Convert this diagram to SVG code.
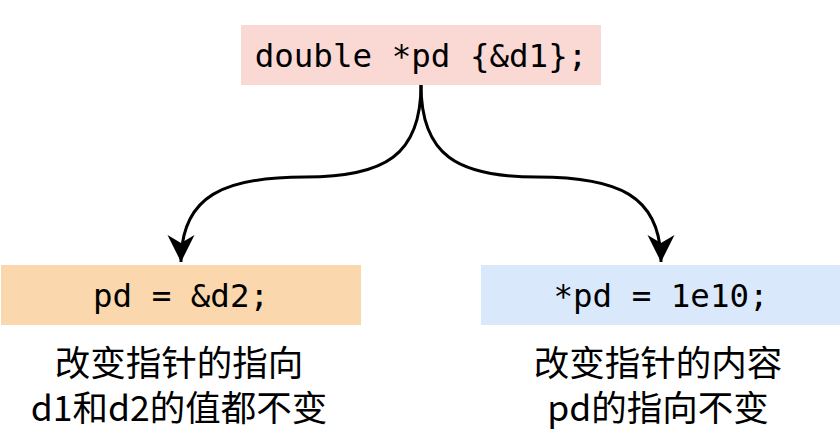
<svg xmlns="http://www.w3.org/2000/svg" width="840" height="447" viewBox="0 0 840 447">
<defs>
<style>
.code{font-family:"DejaVu Sans Mono","Liberation Mono",monospace;font-size:32.5px;fill:#000;text-anchor:middle}
.note{font-family:"Noto Sans CJK SC","Noto Sans",sans-serif;font-size:35.5px;fill:#000;text-anchor:middle}
.edge{fill:none;stroke:#000;stroke-width:3}
</style>
<marker id="arr" markerUnits="userSpaceOnUse" markerWidth="30" markerHeight="30" viewBox="-28 -15 30 30" refX="0" refY="0" orient="auto">
<path d="M0,0 L-27,-13.5 L-19,0 L-27,13.5 Z" fill="#000"/>
</marker>
</defs>
<rect width="840" height="447" fill="#fff"/>
<g id="connectors">
<path class="edge" d="M421,85 C421,155 385,177 305,177 C225,177 181,195 181,262" marker-end="url(#arr)"/>
<path class="edge" d="M421,85 C421,155 457,177 537,177 C617,177 661,195 661,262" marker-end="url(#arr)"/>
</g>
<g id="top">
<rect x="241" y="25" width="360" height="60" fill="#fad9d5"/>
<text class="code" x="421" y="67">double *pd {&amp;d1};</text>
</g>
<g id="left">
<rect x="1" y="265" width="360" height="60" fill="#fad7ac"/>
<text class="code" x="181" y="307">pd = &amp;d2;</text>
</g>
<g id="right">
<rect x="481" y="265" width="359" height="60" fill="#dae8fc"/>
<text class="code" x="661" y="307">*pd = 1e10;</text>
</g>
<g id="left-note">
<text class="note"><tspan x="179" y="376">改变指针的指向</tspan><tspan x="179" y="421">d1和d2的值都不变</tspan></text>
</g>
<g id="right-note">
<text class="note"><tspan x="658" y="376">改变指针的内容</tspan><tspan x="658" y="421">pd的指向不变</tspan></text>
</g>
</svg>
